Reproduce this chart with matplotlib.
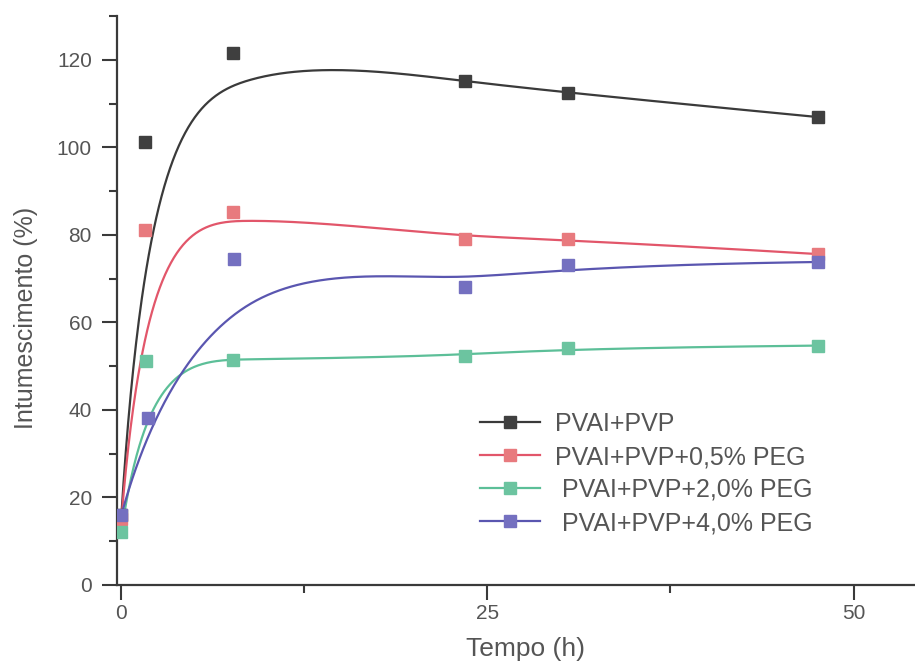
import numpy as np
import matplotlib
matplotlib.use("Agg")
import matplotlib.pyplot as plt
from matplotlib.ticker import MultipleLocator

plt.rcParams['font.family'] = ['Liberation Sans', 'DejaVu Sans']

# Data (time in h, swelling in %)
t_black = [0.0, 1.6, 7.6, 23.5, 30.5, 47.6]
y_black = [16.0, 101.2, 121.5, 115.1, 112.4, 106.9]

t_red = [0.0, 1.6, 7.6, 23.5, 30.5, 47.6]
y_red = [15.0, 81.0, 85.3, 79.1, 79.0, 75.6]

t_green = [0.0, 1.7, 7.6, 23.5, 30.5, 47.6]
y_green = [12.0, 51.2, 51.5, 52.3, 54.1, 54.7]

t_blue = [0.0, 1.8, 7.7, 23.5, 30.5, 47.6]
y_blue = [16.0, 38.1, 74.5, 68.1, 73.0, 73.8]

labels = ["PVAI+PVP", "PVAI+PVP+0,5% PEG", " PVAI+PVP+2,0% PEG", " PVAI+PVP+4,0% PEG"]
line_colors = ["#3a3a3a", "#e2566a", "#5cbf98", "#5a56b0"]
marker_colors = ["#3f3f3f", "#e87a7e", "#6cc4a0", "#7470c0"]


def bspline(xs, ys, n=400, k=3):
    """Clamped uniform B-spline using the data points as control points."""
    P = np.column_stack([xs, ys]).astype(float)
    m = len(P)
    inner = np.linspace(0, 1, m - k + 1)[1:-1]
    knots = np.concatenate([np.zeros(k + 1), inner, np.ones(k + 1)])
    u = np.linspace(0, 1, n)
    u[-1] = 1 - 1e-12

    def N(i, p, uu):
        if p == 0:
            return ((knots[i] <= uu) & (uu < knots[i + 1])).astype(float)
        a = np.zeros_like(uu)
        b = np.zeros_like(uu)
        d1 = knots[i + p] - knots[i]
        d2 = knots[i + p + 1] - knots[i + 1]
        if d1 > 0:
            a = (uu - knots[i]) / d1 * N(i, p - 1, uu)
        if d2 > 0:
            b = (knots[i + p + 1] - uu) / d2 * N(i + 1, p - 1, uu)
        return a + b

    B = np.column_stack([N(i, k, u) for i in range(m)])
    C = B @ P
    return C[:, 0], C[:, 1]


fig = plt.figure(figsize=(9.15, 6.66), dpi=100)
ax = fig.add_axes([117 / 915, (666 - 585) / 666, 1 - 117 / 915, (585 - 16) / 666])

series = [(t_black, y_black), (t_red, y_red), (t_green, y_green), (t_blue, y_blue)]
for (t, y), lab, lc, mc in zip(series, labels, line_colors, marker_colors):
    cx, cy = bspline(t, y)
    ax.plot(cx, cy, color=lc, lw=1.6, zorder=2)
    ax.plot(t, y, ls='none', marker='s', ms=9, color=mc, mec=mc, zorder=3)
    ax.plot([], [], color=lc, lw=1.6, marker='s', ms=9, mfc=mc, mec=mc, label=lab)

ax.set_xlim(-0.3, 54.2)
ax.set_ylim(0, 130)
ax.spines['top'].set_visible(False)
ax.spines['right'].set_visible(False)
for s in ['left', 'bottom']:
    ax.spines[s].set_linewidth(1.6)
    ax.spines[s].set_color('#3a3a3a')

ax.xaxis.set_major_locator(MultipleLocator(25))
ax.xaxis.set_minor_locator(MultipleLocator(12.5))
ax.yaxis.set_major_locator(MultipleLocator(20))
ax.yaxis.set_minor_locator(MultipleLocator(10))
ax.tick_params(which='major', length=11, width=1.5, color='#3a3a3a',
               labelsize=15, labelcolor='#555555', direction='out', pad=3)
ax.tick_params(axis='y', which='major', pad=7)
ax.tick_params(which='minor', length=6, width=1.5, color='#3a3a3a', direction='out')

ax.set_xlabel("Tempo (h)", fontsize=19, color='#555555')
ax.set_ylabel("Intumescimento (%)", fontsize=18, color='#555555')
ax.xaxis.set_label_coords((525 - 117) / 798, (585 - 637) / 569)
ax.yaxis.set_label_coords((38 - 117) / 798, (585 - 318) / 569)

leg = ax.legend(loc='upper left', bbox_to_anchor=(480 / 915, 1 - 412 / 666),
                bbox_transform=fig.transFigure, frameon=False,
                fontsize=18, handlelength=2.4, handletextpad=0.6,
                labelspacing=0.36, borderaxespad=0, borderpad=0)
for txt in leg.get_texts():
    txt.set_color('#555555')

fig.savefig("out.png", dpi=100, facecolor='white')
